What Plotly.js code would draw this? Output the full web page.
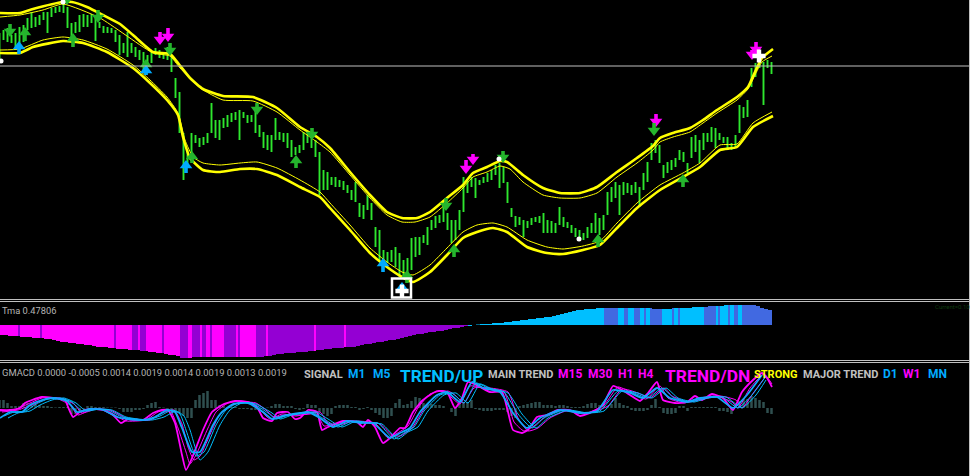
<!DOCTYPE html>
<html><head><meta charset="utf-8">
<script src="https://cdn.plot.ly/plotly-3.0.1.min.js"></script>
<style>html,body{margin:0;padding:0;background:#000;overflow:hidden}</style>
</head><body><div id="chart" style="width:970px;height:476px"></div>
<script>
// bar time axis: one bar = 4 units
const barHigh=[33,30,28,35,33,27,25,18,12,17,15,12,12,8,7,6,3,7,23,22,15,14,15,14,17,22,26,27,28,30,35,43,32,43,47,50,52,55,52,48,50,52,47,57,78,92,133,150,133,135,138,137,133,103,120,120,118,115,113,112,110,112,115,115,107,125,132,135,135,118,132,133,133,140,147,145,132,132,133,140,152,170,172,177,177,180,181,185,190,182,203,205,195,203,227,230,250,252,250,247,253,260,258,238,237,237,235,227,220,216,215,200,213,220,220,210,177,180,177,178,180,177,173,170,165,163,167,182,208,216,217,220,221,218,217,216,213,220,221,223,207,217,222,225,228,230,233,227,223,213,218,215,192,187,182,185,182,183,185,182,187,173,162,143,140,145,165,162,160,158,150,152,163,137,135,140,133,133,127,128,133,137,137,143,135,105,107,100,68,63,60,62,60,62];
const barLow=[60,40,42,43,50,43,42,30,28,27,25,20,33,17,13,12,13,28,42,33,32,27,27,23,41,28,33,33,33,42,55,53,57,53,57,60,70,65,63,55,58,59,60,72,98,133,180,167,153,143,147,145,143,133,138,140,128,127,122,120,140,118,123,122,133,137,148,150,152,140,140,142,148,157,155,153,150,143,148,157,195,190,190,185,187,187,190,193,200,202,217,219,210,220,247,260,263,263,262,267,277,277,273,270,257,255,243,245,230,228,223,222,230,243,240,230,212,193,187,198,185,183,182,180,175,188,183,203,217,227,225,237,228,225,222,223,233,233,233,233,225,227,228,233,237,238,240,238,233,233,235,230,215,202,198,215,195,193,195,193,207,190,182,160,153,163,178,173,170,167,160,162,173,158,152,163,150,142,142,148,140,143,150,150,147,133,118,117,87,77,68,105,68,74];

const upperThickX=[0,20,33,63,72,87,103,120,133,153,170,178,190,203,223,253,277,300,317,330,350,370,387,402,417,430,447,463,473,487,500,507,523,543,560,580,597,617,637,653,660,673,690,703,717,737,748,755,762,773];
const upperThick=[13,13,9,2,2,7,15,24,35,52,54,63,78,89,96,97,108,127,137,148,172,195,212,218,218,212,198,185,173,167,161,162,175,188,193,193,187,172,158,146,138,133,128,120,110,97,87,72,58,49];
const upperThinX=[0,20,43,63,100,153,170,180,200,223,253,277,300,317,330,350,370,387,402,415,430,447,463,473,487,500,510,523,543,560,580,597,617,637,653,660,673,690,703,717,737,748,755,762,772];
const upperThin=[17,15,10,4,18,53,56,68,88,100,101,112,130,142,152,175,198,215,222,222,217,203,188,177,172,166,169,182,195,198,198,193,177,163,150,142,137,132,123,113,100,89,75,62,56];
const lowerThickX=[0,20,33,63,83,107,133,150,167,178,183,190,203,220,240,257,277,300,320,330,350,370,387,402,413,430,447,463,477,493,507,527,547,563,583,600,617,637,660,683,700,720,737,753,773];
const lowerThick=[53,53,47,41,43,52,68,83,100,115,137,158,170,172,169,169,175,187,197,208,230,253,267,277,282,272,255,238,232,228,232,247,253,254,250,245,228,208,190,177,167,150,147,127,116];
const lowerThinX=[0,20,43,63,83,107,133,150,167,178,185,193,203,220,240,257,277,300,320,330,350,370,387,402,413,430,447,463,477,493,507,527,547,563,583,600,617,637,660,683,700,720,737,753,772];
const lowerThin=[50,49,40,37,40,49,65,80,97,113,140,157,163,165,163,162,168,180,192,203,225,248,262,272,275,265,248,232,225,223,227,240,247,249,246,241,223,203,185,173,163,145,144,123,112];

const greenDownX=[10,98,170,257,312,67,446,503,654];
const greenDownTip=[37,23,56,115,140,5,211,163,136];
const greenDownTail=[24,10,43,103,128,0,198,151,123];
const greenUpX=[25,73,146,192,296,407,454,598,683];
const greenUpTip=[27,33,59,151,155,270,244,234,174];
const greenUpTail=[41,47,75,163,168,283,257,247,187];
const blueUpX=[19,186,146,383,402];
const blueUpTip=[41,160,65,258,282];
const blueUpTail=[54,173,75,272,290];
const magentaDownX=[168,160,473,466,656,756,752];
const magentaDownTip=[42,45,165,174,127,55,60];
const magentaDownTail=[28,32,154,160,114,42,50];
const dotX=[63,499,579,1];
const dotY=[2,159,239,61];
const boxX=[401.5];
const boxY=[288];
const cursorX=[759,402];
const cursorY=[56,291];

const tmaValues=[-10,-10,-11,-11,-11,-12,-12,-12,-13,-13,-13,-14,-14,-15,-16,-17,-17,-18,-18,-19,-19,-20,-20,-21,-22,-22,-22,-23,-23,-24,-24,-24,-25,-25,-25,-26,-26,-27,-27,-28,-28,-29,-30,-30,-31,-33,-33,-33,-32,-32,-32,-32,-32,-32,-32,-32,-32,-32,-32,-32,-32,-32,-32,-32,-32,-32,-31,-31,-30,-29,-29,-28,-28,-28,-27,-27,-27,-26,-26,-25,-25,-24,-24,-23,-23,-23,-22,-22,-22,-21,-20,-19,-19,-18,-17,-17,-16,-15,-15,-14,-13,-12,-11,-10,-9,-9,-8,-7,-7,-6,-6,-5,-4,-3,-3,-2,-1,-1,0,0.5,1,1,1,2,2,2,3,3,4,4,5,5,6,6,7,7,8,8,9,10,11,12,13,14,15,15,16,16,16,17,17,17,17,17,17,17,17,17,17,17,17,17,17,16,16,16,16,16,17,17,17,17,17,18,18,18,18,19,19,19,19,20,20,20,20,20,20,20,20,19,17,16,15,14];
const tmaRunEnds=[19,21,41,43,115,117,133,139,141,147,163,165,181,189,193,201,203,207,211,213,225,237,239,241,257,267,269,315,317,345,347,469,605,619,625,629,635,641,645,647,651,663,673,675,679,681,705,717,719,721,729,731,735,739,743,775];
const tmaRunColors="mvmvmvmvmvmvmvmvmvmvmvmvmvmvmvmv"+"srsrsrsrsrsrsrsrsrsrsrsr";
const tmaPalette={m:"#ff00ff",v:"#9400d3",s:"#00bfff",r:"#4169e1"};

const histValues=[8,8,5,2,2,2,5,5,5,4,3,2,2,1,0.5,1,1,1,-6,-6,-4,-1,2,2,1,1,1,0.5,0.5,0.5,-1,-4,-4,-4,-2,-2,-1,3,5,6,1,0.5,-1,-2,-3,-5,-8,-10,-10,8,13,15,17,8,8,3,2,1,1,1,-1,-1,-1,-2,-2,-2,-1,0.5,2,4,4,2,2,2,-1,-2,-1,4,3,3,-4,-6,-8,-6,2,3,3,3,1,1,-2,-1,1,-2,-5,-7,-10,-10,-8,5,9,3,4,7,11,10,5,4,4,3,3,2,0,-4,-8,4,5,6,8,-1,-2,-3,-3,-3,-2,-2,-2,-4,-8,-10,2,3,4,5,6,6,3,3,3,2,3,3,2,1,1,1,2,4,5,5,3,3,2,4,10,5,3,2,-2,-3,-3,-3,-2,3,9,1,-5,-6,-6,-5,2,2,-3,1,1,1,1,1,1,1,-3,-3,-4,-6,4,7,9,9,12,10,8,6,-5,-6];

const macdFastX=[0,10,20,25,32,42,53,65,68,73,80,90,103,113,121,128,143,153,162,168,175,182,186,192,203,212,222,235,248,257,263,272,277,288,295,300,308,317,322,328,343,357,363,368,375,383,390,400,405,413,423,437,447,455,462,468,480,490,502,508,513,522,528,537,547,558,570,580,592,603,613,622,630,640,648,657,663,675,687,695,702,712,723,733,742,753,762,767,772];
const macdFast=[410,410,408,403,400,397,398,400,407,417,412,409,410,415,423,419,420,413,410,410,423,455,470,458,430,412,405,401,402,407,418,421,413,412,419,418,410,412,430,427,421,422,427,420,427,443,438,428,428,412,400,391,392,408,398,382,387,392,392,412,430,433,430,417,415,410,410,416,412,405,386,390,395,401,393,382,400,403,402,396,400,394,398,410,392,380,373,378,387];
const macdMid1X=[0,14,30,42,56,70,78,92,106,118,126,146,158,170,178,186,190,196,208,216,228,240,252,262,270,282,296,306,316,324,334,350,366,376,388,396,408,418,430,444,452,460,470,486,504,514,524,534,546,562,584,604,618,634,646,660,668,684,700,716,732,738,750,764,772];
const macdMid1=[411,410,403,398,398,405,415,409,410,417,421,420,412,410,428,452,464,455,428,412,403,401,403,412,419,414,416,414,412,426,424,421,423,424,438,434,426,408,394,391,398,404,386,389,392,422,431,426,416,410,414,405,387,394,399,386,398,403,398,396,402,408,388,374,384];
const macdMid2X=[2,18,34,46,60,74,82,96,110,122,130,150,162,174,182,188,194,200,212,220,232,244,256,266,274,286,300,310,320,328,338,354,370,380,392,400,412,422,434,448,456,464,474,490,508,518,528,538,550,566,588,608,622,638,650,664,672,688,704,720,736,742,754,766];
const macdMid2=[412,410,404,399,398,404,413,409,410,416,420,420,413,410,424,447,460,456,430,414,405,402,403,410,417,415,415,414,412,423,425,421,422,424,435,436,428,412,397,391,396,403,388,388,392,418,431,428,418,411,413,406,389,393,398,388,396,402,399,396,400,408,392,376];
const signalX=[0,10,22,30,42,53,67,77,90,103,117,128,143,155,167,175,182,192,200,213,222,233,248,263,272,283,300,308,320,333,347,360,373,390,400,410,420,437,447,460,472,483,500,513,527,540,560,580,597,613,630,643,657,670,687,700,717,733,747,762];
const signal=[418,412,412,405,400,398,401,412,409,410,417,419,420,417,410,412,428,452,452,425,412,404,403,412,419,416,413,412,418,427,421,423,423,438,433,428,412,395,392,402,382,388,392,413,428,418,410,413,411,390,393,398,388,398,402,398,397,408,395,375];
const signal2X=[4,14,26,36,48,60,72,82,96,108,122,134,148,160,172,180,186,196,204,216,226,238,252,268,276,288,304,312,324,338,352,366,378,394,404,414,424,440,452,464,476,488,504,518,532,544,564,584,600,618,634,648,662,674,690,704,722,738,752,766];
const signal2=[416,412,411,404,399,398,402,411,409,410,417,419,420,416,410,414,430,456,452,425,410,403,403,413,419,415,413,412,419,427,421,423,423,439,433,427,411,395,393,403,383,388,392,414,428,418,410,413,411,391,393,398,388,398,402,398,397,408,395,376];
const signal3X=[8,18,30,40,52,64,76,86,100,112,126,138,152,164,176,184,190,200,208,220,230,242,256,272,280,292,308,316,328,342,356,370,382,398,408,418,428,444,456,468,480,492,508,522,536,548,568,588,604,622,638,652,666,678,694,708,726,742,756,766];
const signal3=[418,413,411,405,400,398,403,411,409,410,417,419,420,417,411,416,430,460,452,425,410,403,404,413,419,415,413,412,419,427,421,423,424,439,432,427,411,395,393,403,384,389,393,414,428,418,410,413,411,391,393,398,388,398,402,398,397,408,395,380];

const labelTexts=["Tma 0.47806","GMACD 0.0000 -0.0005 0.0014 0.0019 0.0014 0.0019 0.0013 0.0019","Current=0.10","SIGNAL","M1","M5","TREND/UP","MAIN TREND","M15","M30","H1","H4","TREND/DN","STRONG","MAJOR TREND","D1","W1","MN"];
const labelX=[1,1,934,303,347,372,399,487,557,587,617,637,664,753,802,882,902,927];
const labelY=[310,372,306,374,374,374,376,374,374,374,374,374,376,374,374,374,374,374];
const labelSize=[9.3,9.4,6,11,12,12,17.2,11,12,12,12,12,17.4,11,11,12,12,12];
const labelColor=["#b4b4b4","#b4b4b4","#0c3a0c","#c0c0c0","#00aaff","#00aaff","#00bfff","#c0c0c0","#ff00ff","#ff00ff","#ff00ff","#ff00ff","#ff00ff","#ffff00","#c0c0c0","#00aaff","#ff00ff","#00aaff"];
const labelBold=[0,0,0,1,1,1,1,1,1,1,1,1,1,1,1,1,1,1];
const grayLines=[66,299.5,301.5,360.5,362.5];

// ---- traces
const barTime=barHigh.map((_,i)=>4*i-0.5);
const traces=[];
traces.push({type:"scatter",mode:"lines",x:barTime.flatMap(t=>[t,t,null]),y:barHigh.flatMap((h,i)=>[h,barLow[i],null]),line:{color:"#2ee62e",width:1.9},hoverinfo:"skip"});

// Tma histogram: colour changes fall on a 2 unit grid
const tmaX=[],tmaY=[],tmaC=[];
for(let x=0;x<772;x+=2){
  const i=Math.min(tmaValues.length-1,Math.floor((x+1)/4));
  let r=tmaRunEnds.findIndex(e=>x+1<e);
  if(r<0) r=tmaRunEnds.length-1;
  tmaX.push(x+1);tmaY.push(-tmaValues[i]);tmaC.push(tmaPalette[tmaRunColors[r]]);
}
traces.push({type:"bar",x:tmaX,base:325,y:tmaY,width:2,marker:{color:tmaC,line:{width:0}},hoverinfo:"skip"});
traces.push({type:"bar",x:barTime,base:408,y:histValues.map(v=>-v),width:2.5,marker:{color:"#2f4f4f",line:{width:0}},hoverinfo:"skip"});

function line(x,y,color,w){traces.push({type:"scatter",mode:"lines",x,y,line:{color,width:w,shape:"spline",smoothing:0.5},hoverinfo:"skip"});}
line(upperThinX,upperThin,"#ffff00",1);
line(lowerThinX,lowerThin,"#ffff00",1);
line(upperThickX,upperThick,"#ffff00",2.6);
line(lowerThickX,lowerThick,"#ffff00",2.6);
line(macdMid1X,macdMid1,"#ff00ff",1);
line(macdMid2X,macdMid2,"#ff00ff",1);
line(macdFastX,macdFast,"#ff00ff",1.8);
line(signal2X,signal2,"#00bfff",1);
line(signal3X,signal3,"#00bfff",1);
line(signalX,signal,"#10a8ff",1.8);

function arrows(x,tip,tail,color,up){
  const y=tip.map(t=>t+(up?5.5:-5.5));
  const len=y.map((v,i)=>Math.max(0,up?tail[i]-v:v-tail[i]));
  const zero=tip.map(()=>0);
  traces.push({type:"scatter",mode:"markers",x,y,
    marker:{symbol:up?"triangle-up":"triangle-down",size:11,color,line:{width:0}},
    error_y:{type:"data",symmetric:false,array:up?len:zero,arrayminus:up?zero:len,color,thickness:3.6,width:0},
    hoverinfo:"skip"});
}
arrows(magentaDownX,magentaDownTip,magentaDownTail,"#ff00ff",false);
arrows(greenDownX,greenDownTip,greenDownTail,"#25b52d",false);
arrows(greenUpX,greenUpTip,greenUpTail,"#25b52d",true);
arrows(blueUpX,blueUpTip,blueUpTail,"#00aaff",true);
traces.push({type:"scatter",mode:"markers",x:dotX,y:dotY,marker:{symbol:"circle",size:5,color:"#ffffff"},hoverinfo:"skip"});
traces.push({type:"scatter",mode:"markers",x:boxX,y:boxY,marker:{symbol:"square-open",size:19,color:"#ffffff",line:{width:2.5,color:"#ffffff"}},hoverinfo:"skip"});
traces.push({type:"scatter",mode:"markers",x:cursorX,y:cursorY,marker:{symbol:"cross",size:11,color:"#ffffff",line:{width:0}},hoverinfo:"skip"});

const annotations=labelTexts.map((t,i)=>({text:t,x:labelX[i],y:labelY[i],xref:"x",yref:"y",xanchor:"left",yanchor:"middle",showarrow:false,borderpad:0,
  font:{family:'"Roboto",sans-serif',size:labelSize[i],color:labelColor[i],weight:labelBold[i]?700:400}}));
const shapes=grayLines.map(y=>({type:"line",xref:"x",yref:"y",x0:0,x1:970,y0:y,y1:y,line:{color:"#c0c0c0",width:1},layer:"above"}));
shapes.push({type:"line",xref:"x",yref:"y",x0:969.5,x1:969.5,y0:0,y1:476,line:{color:"#c0c0c0",width:1}});

Plotly.newPlot("chart",traces,{
  width:970,height:476,margin:{l:0,r:0,t:0,b:0,pad:0},
  paper_bgcolor:"#000",plot_bgcolor:"#000",showlegend:false,barmode:"overlay",
  xaxis:{range:[0,970],visible:false,fixedrange:true},
  yaxis:{range:[476,0],visible:false,fixedrange:true},
  annotations,shapes
},{displayModeBar:false,staticPlot:true});
</script></body></html>
